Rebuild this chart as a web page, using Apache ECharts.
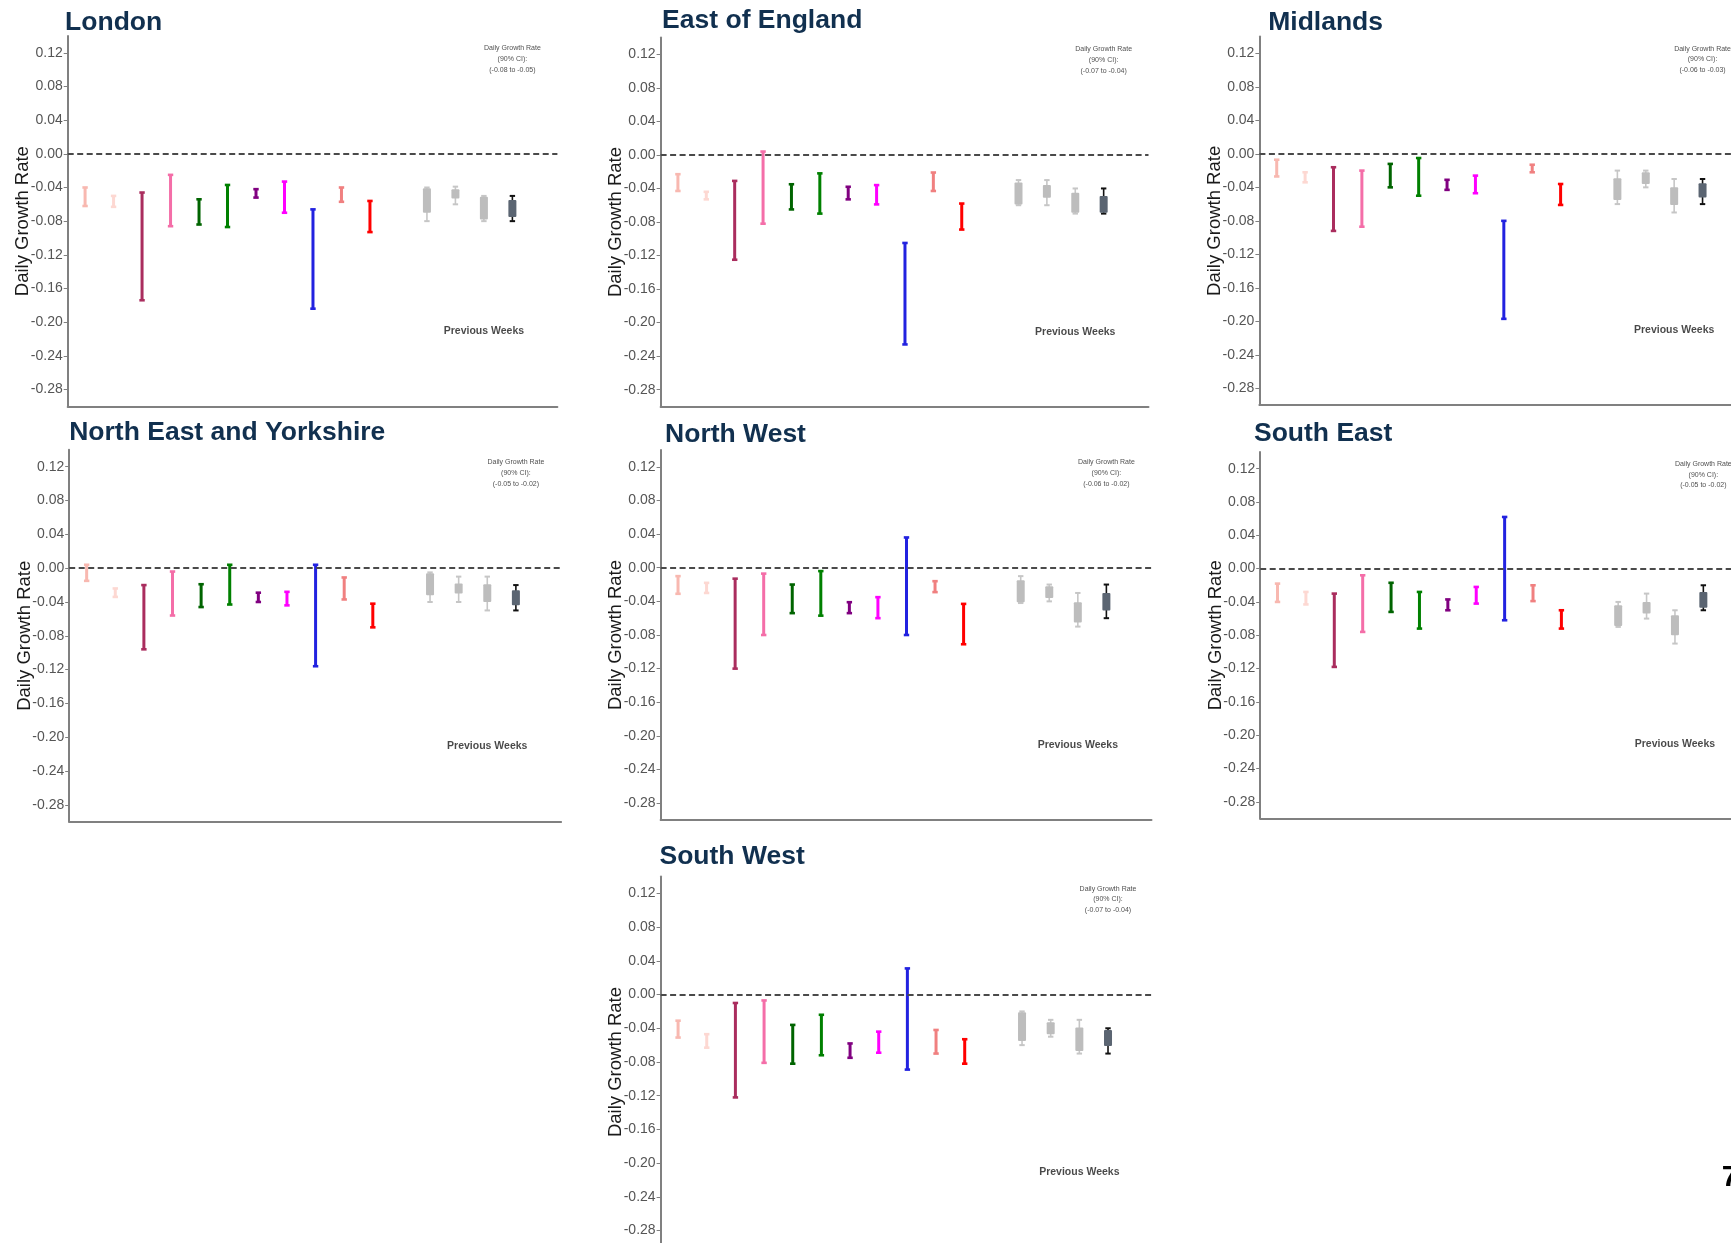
<!DOCTYPE html>
<html>
<head>
<meta charset="utf-8">
<title>Daily growth rate by NHS region</title>
<script src="https://cdn.jsdelivr.net/npm/echarts@6/dist/echarts.min.js"></script>
<style>
  html, body { margin: 0; padding: 0; background: #ffffff; overflow: hidden; }
  #chart { width: 1800px; height: 1243px; }
</style>
</head>
<body>
<div id="chart"></div>
<script>
// ---- data -------------------------------------------------------------
const REGIONS = ['London', 'East of England', 'Midlands', 'North East and Yorkshire',
  'North West', 'South East', 'South West'];

// x positions of the eleven model estimates and of the four previous weeks
const MODEL_POSITIONS = [1, 2, 3, 4, 5, 6, 7, 8, 9, 10, 11];
const PREV_POSITIONS = [13, 14, 15, 16];

const MODEL_COLORS = ['#f8b8b0', '#fdd8d2', '#aa2d5e', '#f46ea8', '#006400', '#008000',
  '#800080', '#ff00ff', '#2222e0', '#f08080', '#ff0000'];

const Y_TICKS = [-0.28, -0.24, -0.20, -0.16, -0.12, -0.08, -0.04, 0.00, 0.04, 0.08, 0.12];

// model 90% intervals per region: [upper, lower]
const LONDON_CI = [[-0.040, -0.062], [-0.050, -0.063], [-0.046, -0.174], [-0.025, -0.086],
  [-0.054, -0.084], [-0.037, -0.087], [-0.042, -0.052], [-0.033, -0.070], [-0.066, -0.184],
  [-0.040, -0.057], [-0.056, -0.093]];
const EAST_CI = [[-0.023, -0.043], [-0.044, -0.053], [-0.031, -0.125], [0.004, -0.082],
  [-0.035, -0.065], [-0.022, -0.070], [-0.038, -0.053], [-0.036, -0.059], [-0.105, -0.226],
  [-0.021, -0.043], [-0.058, -0.089]];
const MIDLANDS_CI = [[-0.007, -0.027], [-0.022, -0.034], [-0.016, -0.092], [-0.020, -0.087],
  [-0.012, -0.040], [-0.005, -0.050], [-0.031, -0.043], [-0.026, -0.047], [-0.080, -0.197],
  [-0.013, -0.022], [-0.036, -0.061]];
const NEY_CI = [[0.004, -0.015], [-0.024, -0.034], [-0.020, -0.096], [-0.004, -0.056],
  [-0.019, -0.046], [0.004, -0.043], [-0.029, -0.040], [-0.028, -0.044], [0.004, -0.116],
  [-0.011, -0.037], [-0.042, -0.070]];
const NW_CI = [[-0.010, -0.031], [-0.018, -0.030], [-0.013, -0.120], [-0.007, -0.080],
  [-0.020, -0.054], [-0.004, -0.057], [-0.041, -0.054], [-0.035, -0.060], [0.036, -0.080],
  [-0.016, -0.029], [-0.043, -0.091]];
const SE_CI = [[-0.018, -0.040], [-0.028, -0.043], [-0.030, -0.118], [-0.008, -0.076],
  [-0.017, -0.052], [-0.028, -0.072], [-0.037, -0.050], [-0.022, -0.042], [0.062, -0.062],
  [-0.020, -0.039], [-0.050, -0.072]];
const SW_CI = [[-0.031, -0.051], [-0.047, -0.063], [-0.010, -0.122], [-0.007, -0.081],
  [-0.036, -0.082], [-0.024, -0.072], [-0.058, -0.075], [-0.044, -0.069], [0.031, -0.089],
  [-0.042, -0.070], [-0.053, -0.082]];

// previous weeks: [whisker top, box top, box bottom, whisker bottom]; the last is the combined estimate
const LONDON_PREV = [[-0.040, -0.041, -0.070, -0.080], [-0.039, -0.042, -0.053, -0.060],
  [-0.050, -0.051, -0.078, -0.080], [-0.05, -0.055, -0.075, -0.08]];
const EAST_PREV = [[-0.030, -0.033, -0.059, -0.060], [-0.030, -0.036, -0.051, -0.060],
  [-0.040, -0.045, -0.069, -0.070], [-0.04, -0.049, -0.069, -0.07]];
const MIDLANDS_PREV = [[-0.020, -0.029, -0.055, -0.060], [-0.020, -0.022, -0.036, -0.040],
  [-0.030, -0.040, -0.061, -0.070], [-0.03, -0.035, -0.052, -0.06]];
const NEY_PREV = [[-0.005, -0.006, -0.032, -0.040], [-0.010, -0.018, -0.030, -0.040],
  [-0.010, -0.019, -0.040, -0.050], [-0.02, -0.026, -0.044, -0.05]];
const NW_PREV = [[-0.010, -0.015, -0.041, -0.042], [-0.020, -0.022, -0.036, -0.040],
  [-0.030, -0.041, -0.065, -0.070], [-0.02, -0.030, -0.051, -0.06]];
const SE_PREV = [[-0.040, -0.044, -0.069, -0.070], [-0.030, -0.040, -0.054, -0.060],
  [-0.050, -0.056, -0.080, -0.090], [-0.02, -0.028, -0.047, -0.05]];
const SW_PREV = [[-0.020, -0.021, -0.055, -0.060], [-0.030, -0.033, -0.047, -0.050],
  [-0.030, -0.039, -0.067, -0.070], [-0.04, -0.042, -0.061, -0.07]];

const CI_BY_REGION = [LONDON_CI, EAST_CI, MIDLANDS_CI, NEY_CI, NW_CI, SE_CI, SW_CI];
const PREV_BY_REGION = [LONDON_PREV, EAST_PREV, MIDLANDS_PREV, NEY_PREV, NW_PREV, SE_PREV, SW_PREV];

// ---- layout -----------------------------------------------------------
const PANELS = [
  { left: 67.7,   top: 36,    width: 489.7, height: 370.3, titleX: 65.1,   titleY: 22.7 },
  { left: 660.6,  top: 37.5,  width: 487.9, height: 369,   titleX: 662.1,  titleY: 20.8 },
  { left: 1259.4, top: 36.6,  width: 488,   height: 368.5, titleX: 1268.2, titleY: 22.8 },
  { left: 69.2,   top: 449.8, width: 491.9, height: 372,   titleX: 69.2,   titleY: 432.8 },
  { left: 660.6,  top: 450,   width: 490.9, height: 370,   titleX: 665.1,  titleY: 434.2 },
  { left: 1260.2, top: 452,   width: 488,   height: 366.5, titleX: 1254,   titleY: 433.8 },
  { left: 660.6,  top: 876.5, width: 492.7, height: 371,   titleX: 659.5,  titleY: 856.2 }
];
const X_MIN = 0.39, X_MAX = 17.58;
const FONT = '"Liberation Sans", Arial, Helvetica, sans-serif';
const AXIS_GREY = '#808080';

// ---- renderers --------------------------------------------------------
function renderInterval(params, api) {
  const x = api.value(0);
  const top = api.coord([x, api.value(1)]);
  const bot = api.coord([x, api.value(2)]);
  const color = api.visual('color');
  const cap = 2.7;
  return {
    type: 'group',
    children: [
      { type: 'line', shape: { x1: top[0], y1: top[1], x2: bot[0], y2: bot[1] },
        style: { stroke: color, lineWidth: 3 } },
      { type: 'line', shape: { x1: top[0] - cap, y1: top[1], x2: top[0] + cap, y2: top[1] },
        style: { stroke: color, lineWidth: 2.6 } },
      { type: 'line', shape: { x1: bot[0] - cap, y1: bot[1], x2: bot[0] + cap, y2: bot[1] },
        style: { stroke: color, lineWidth: 2.6 } }
    ]
  };
}

function renderPrevious(params, api) {
  const x = api.value(0);
  const wTop = api.coord([x, api.value(1)]);
  const bTop = api.coord([x, api.value(2)]);
  const bBot = api.coord([x, api.value(3)]);
  const wBot = api.coord([x, api.value(4)]);
  const combined = api.value(5) === 1;
  const boxColor = combined ? '#5b6572' : '#bdbdbd';
  const whiskerColor = combined ? '#111111' : '#c6c6c6';
  const cap = 2.7, half = 4;
  return {
    type: 'group',
    children: [
      { type: 'line', shape: { x1: wTop[0], y1: wTop[1], x2: wBot[0], y2: wBot[1] },
        style: { stroke: whiskerColor, lineWidth: 1.6 } },
      { type: 'line', shape: { x1: wTop[0] - cap, y1: wTop[1], x2: wTop[0] + cap, y2: wTop[1] },
        style: { stroke: whiskerColor, lineWidth: 2 } },
      { type: 'line', shape: { x1: wBot[0] - cap, y1: wBot[1], x2: wBot[0] + cap, y2: wBot[1] },
        style: { stroke: whiskerColor, lineWidth: 2 } },
      { type: 'rect', shape: { x: bTop[0] - half, y: bTop[1], width: half * 2, height: bBot[1] - bTop[1], r: 1 },
        style: { fill: boxColor } }
    ]
  };
}

// ---- option -----------------------------------------------------------
const grid = [], xAxis = [], yAxis = [], series = [], graphic = [];

PANELS.forEach((p, i) => {
  grid.push({ left: p.left, top: p.top, width: p.width, height: p.height,
    containLabel: false, outerBoundsMode: 'none' });

  xAxis.push({
    gridIndex: i, type: 'value', min: X_MIN, max: X_MAX,
    axisLine: { show: true, onZero: false, lineStyle: { color: AXIS_GREY, width: 2 } },
    axisTick: { show: false }, axisLabel: { show: false }, splitLine: { show: false }
  });

  yAxis.push({
    gridIndex: i, type: 'value', min: -0.30, max: 0.14,
    name: 'Daily Growth Rate', nameLocation: 'middle', nameRotate: 90, nameGap: 35,
    nameMoveOverlap: false,
    nameTextStyle: { fontSize: 18.5, color: '#1a1a1a', fontFamily: FONT },
    axisLine: { show: true, onZero: false, lineStyle: { color: AXIS_GREY, width: 2 } },
    axisTick: { show: true, length: 4, customValues: Y_TICKS, lineStyle: { color: AXIS_GREY, width: 1 } },
    axisLabel: { customValues: Y_TICKS, formatter: v => v.toFixed(2), fontSize: 14,
      color: '#555555', margin: 5, fontFamily: FONT },
    splitLine: { show: false }
  });

  const ci = CI_BY_REGION[i];
  series.push({
    type: 'custom', xAxisIndex: i, yAxisIndex: i,
    renderItem: renderInterval,
    data: MODEL_POSITIONS.map((pos, k) => ({
      value: [pos, ci[k][0], ci[k][1]],
      itemStyle: { color: MODEL_COLORS[k] }
    })),
    markLine: {
      silent: true, symbol: 'none', label: { show: false },
      lineStyle: { type: [6, 3.5], color: '#4a4a4a', width: 1.8 },
      data: [{ yAxis: 0 }]
    },
    z: 3
  });

  const prev = PREV_BY_REGION[i];
  series.push({
    type: 'custom', xAxisIndex: i, yAxisIndex: i,
    renderItem: renderPrevious,
    data: PREV_POSITIONS.map((pos, k) => ({
      value: [pos, prev[k][0], prev[k][1], prev[k][2], prev[k][3], k === prev.length - 1 ? 1 : 0]
    })),
    z: 3
  });

  // interval note over the combined estimate, and the previous-weeks caption
  const last = prev[prev.length - 1];
  const note = 'Daily Growth Rate\n(90% CI):\n(' + last[3].toFixed(2) + ' to ' + last[0].toFixed(2) + ')';
  series.push({
    type: 'scatter', xAxisIndex: i, yAxisIndex: i, symbolSize: 0, silent: true,
    label: { show: true, position: 'inside', formatter: '{b}', fontFamily: FONT, color: '#222222' },
    data: [
      { name: note, value: [16, 0.1128], label: { fontSize: 7, lineHeight: 10.8 } },
      { name: 'Previous Weeks', value: [15, -0.211], label: { fontSize: 10.5, fontWeight: 'bold', color: '#1a1a1a' } }
    ],
    z: 4
  });

  graphic.push({
    type: 'text', x: p.titleX, y: p.titleY,
    style: { text: REGIONS[i], font: 'bold 26.5px ' + FONT, fill: '#11304f',
      textAlign: 'left', textVerticalAlign: 'middle', align: 'left', verticalAlign: 'middle' }
  });
});

// slide page number
graphic.push({
  type: 'text', x: 1721.7, y: 1177.5,
  style: { text: '7', font: 'bold 30px ' + FONT, fill: '#000000',
    textAlign: 'left', textVerticalAlign: 'middle', align: 'left', verticalAlign: 'middle' }
});

const chart = echarts.init(document.getElementById('chart'), null, { renderer: 'canvas' });
chart.setOption({
  backgroundColor: '#ffffff',
  animation: false,
  grid, xAxis, yAxis, series, graphic
});
</script>
</body>
</html>
